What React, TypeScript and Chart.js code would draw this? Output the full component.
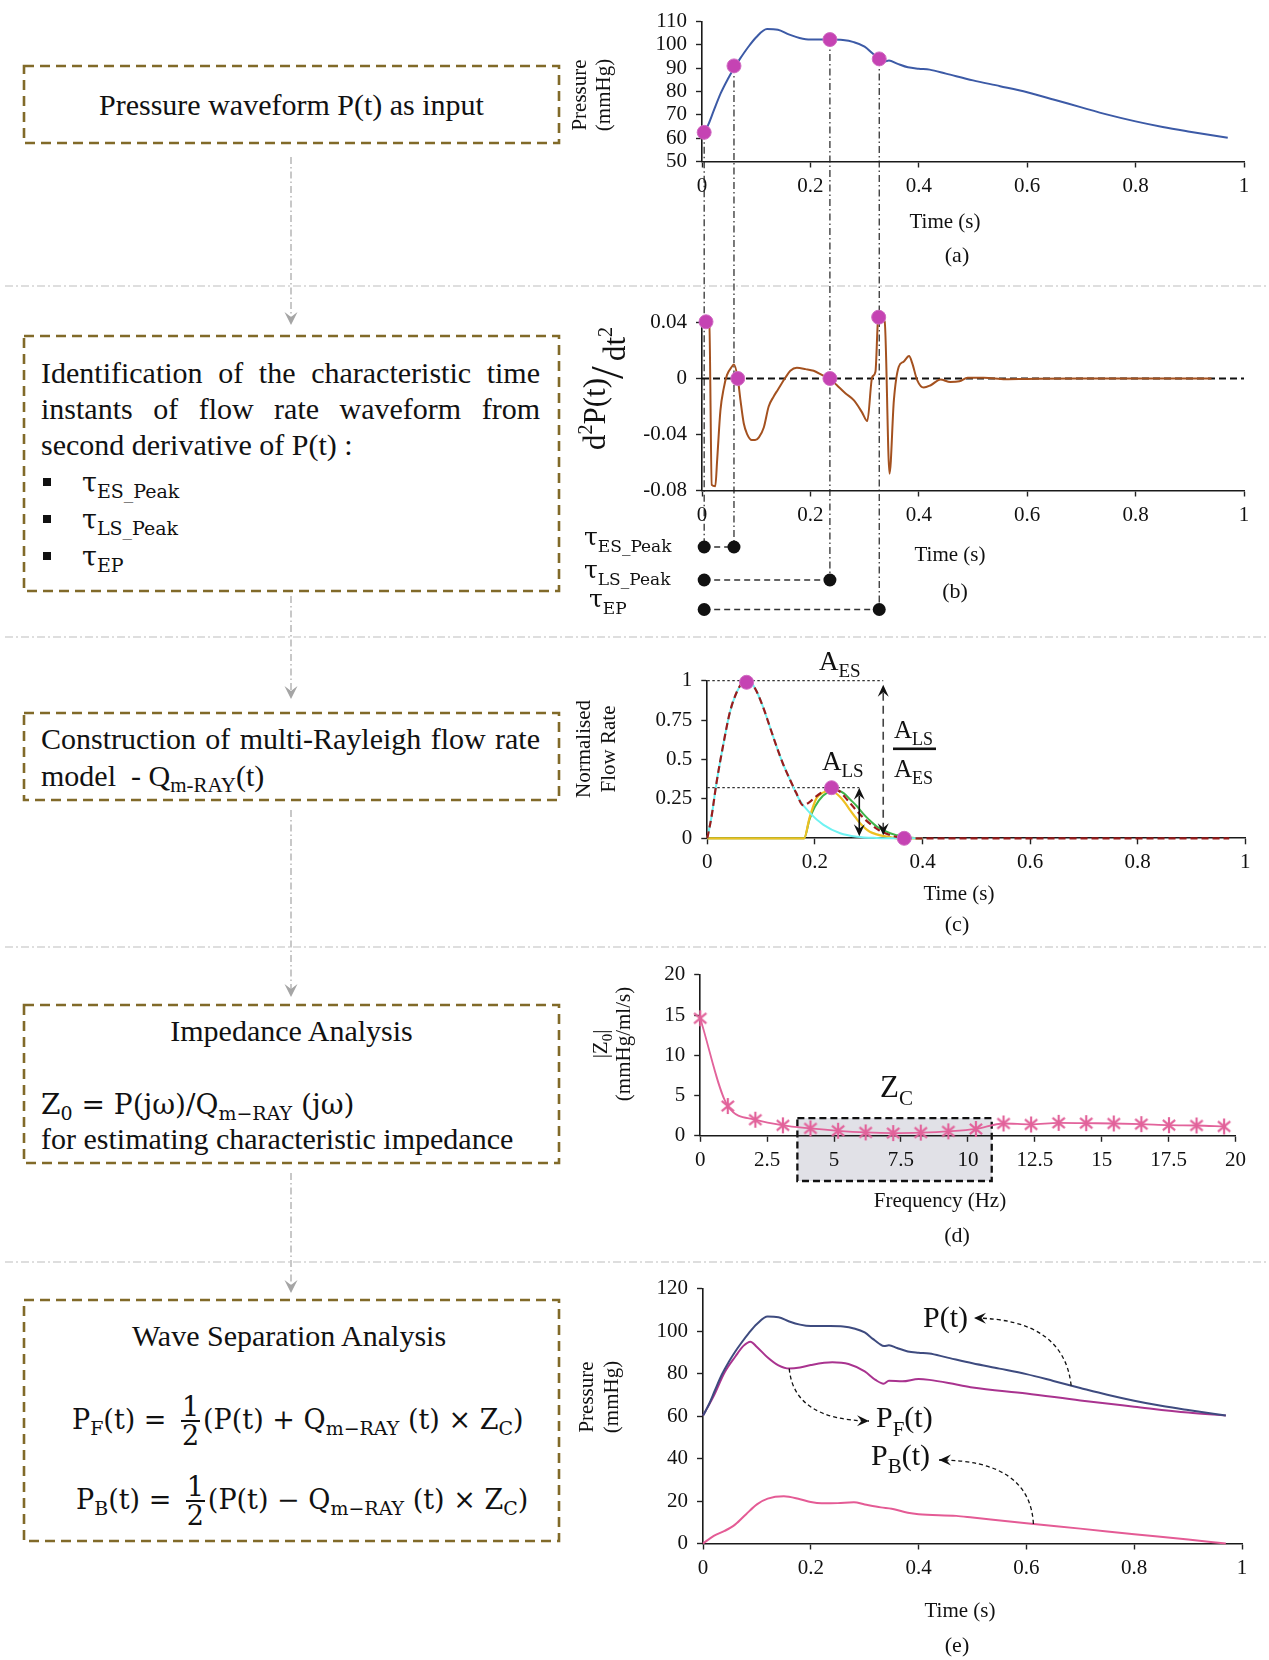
import React, { useEffect, useRef } from 'react';
import { Chart, registerables } from 'chart.js';

Chart.register(...registerables);

const SERIF = '"Liberation Serif", "Times New Roman", serif';
const MATH = '"DejaVu Serif", "Liberation Serif", serif';
const INK = '#111111';
const MARKER = '#c543b3';

Chart.defaults.font.family = SERIF;
Chart.defaults.color = INK;

// ---------- Pressure waveform P(t) (panels a and e) ----------
const pressureTime = [0, 0.005, 0.012, 0.022, 0.035, 0.048, 0.059, 0.07, 0.085, 0.1, 0.12, 0.14, 0.16, 0.18, 0.2, 0.236, 0.26, 0.28, 0.3, 0.315, 0.327, 0.336, 0.345, 0.36, 0.38, 0.4, 0.42, 0.45, 0.5, 0.55, 0.6, 0.65, 0.7, 0.75, 0.8, 0.85, 0.9, 0.97];
const pressureMmHg = [60.2, 62.5, 66, 72, 79.5, 85.5, 90, 94, 99, 103.3, 106.8, 106.5, 104.5, 103, 102.3, 102.3, 102.1, 101.2, 99.3, 96.3, 94, 92.9, 93.3, 92, 90.4, 89.8, 89.4, 87.7, 84.8, 82.3, 79.7, 76.5, 73.2, 70, 67.2, 64.8, 62.8, 60.2];

// ---------- Characteristic instants ----------
const tauTimes = [0.004, 0.059, 0.236, 0.327];
const tauPressure = [62.5, 91, 102.3, 94];
const tauNames = ['ES_Peak', 'LS_Peak', 'EP'];
const tauRowEnd = [0.059, 0.236, 0.327];
const tauLineRow = [0, 0, 1, 2];

// ---------- Second derivative d2P/dt2 (panel b) ----------
const d2Time = [0.002, 0.0074, 0.0135, 0.018, 0.0245, 0.028, 0.034, 0.04, 0.046, 0.055, 0.059, 0.066, 0.071, 0.077, 0.083, 0.092, 0.098, 0.105, 0.114, 0.123, 0.132, 0.14, 0.154, 0.163, 0.175, 0.191, 0.206, 0.222, 0.236, 0.249, 0.265, 0.28, 0.295, 0.305, 0.314, 0.32, 0.3247, 0.326, 0.337, 0.346, 0.354, 0.363, 0.372, 0.382, 0.388, 0.397, 0.409, 0.422, 0.44, 0.458, 0.475, 0.49, 0.52, 0.56, 0.6, 0.7, 0.8, 0.94];
const d2Value = [0.04, 0.0405, 0.039, -0.076, -0.077, -0.058, -0.0228, -0.0072, 0.0024, 0.0084, 0.01, 0, -0.0156, -0.032, -0.0395, -0.044, -0.044, -0.042, -0.035, -0.02, -0.013, -0.008, 0.0007, 0.0055, 0.0076, 0.0067, 0.0055, 0.0024, 0, -0.0048, -0.0107, -0.0155, -0.024, -0.0304, 0.001, 0.0048, 0.042, 0.0438, 0.0407, -0.068, -0.0156, 0.0084, 0.012, 0.016, 0.0108, -0.0012, -0.0065, -0.0048, -0.0007, -0.0025, -0.002, 0.0005, 0.0005, -0.0005, -0.0003, 0, 0, 0];
const d2MarkTime = [0.0074, 0.066, 0.236, 0.326];
const d2MarkValue = [0.0405, 0, 0, 0.0438];

// ---------- Multi-Rayleigh flow model (panel c) ----------
const esTime = [0, 0.008, 0.017, 0.03, 0.042, 0.055, 0.065, 0.073, 0.082, 0.092, 0.104, 0.116, 0.128, 0.141, 0.154, 0.172, 0.191, 0.216, 0.247, 0.278, 0.315, 0.36, 0.4];
const esFlow = [0, 0.14, 0.35, 0.6, 0.8, 0.93, 0.985, 1.0, 0.985, 0.93, 0.83, 0.71, 0.59, 0.47, 0.37, 0.24, 0.16, 0.085, 0.032, 0.01, 0.002, 0, 0];
const mrayTime = [0, 0.008, 0.017, 0.03, 0.042, 0.055, 0.065, 0.073, 0.082, 0.092, 0.104, 0.116, 0.128, 0.141, 0.154, 0.165, 0.178, 0.19, 0.2, 0.212, 0.231, 0.245, 0.26, 0.275, 0.29, 0.305, 0.32, 0.34, 0.36, 0.375, 0.97];
const mrayFlow = [0, 0.14, 0.35, 0.6, 0.8, 0.93, 0.985, 1.0, 0.985, 0.93, 0.83, 0.71, 0.59, 0.47, 0.37, 0.29, 0.21, 0.23, 0.26, 0.29, 0.321, 0.3, 0.245, 0.185, 0.13, 0.085, 0.05, 0.02, 0.004, 0, 0];
const lsATime = [0, 0.18, 0.19, 0.203, 0.215, 0.226, 0.237, 0.247, 0.256, 0.265, 0.275, 0.284, 0.293, 0.302, 0.315, 0.327, 0.34, 0.352, 0.4];
const lsAFlow = [0, 0, 0.13, 0.255, 0.29, 0.3, 0.29, 0.262, 0.225, 0.18, 0.135, 0.095, 0.065, 0.042, 0.025, 0.015, 0.007, 0, 0];
const lsBTime = [0, 0.18, 0.19, 0.2, 0.215, 0.23, 0.24, 0.254, 0.266, 0.279, 0.29, 0.3, 0.315, 0.328, 0.34, 0.352, 0.364, 0.38, 0.4];
const lsBFlow = [0, 0, 0.12, 0.2, 0.27, 0.3, 0.305, 0.285, 0.245, 0.2, 0.155, 0.12, 0.075, 0.05, 0.032, 0.02, 0.01, 0.003, 0];
const flowMarkTime = [0.073, 0.231, 0.366];
const flowMarkValue = [0.99, 0.321, 0];
const aesLevel = 1;
const alsLevel = 0.321;
const aesArrowTime = 0.327;
const alsArrowTime = 0.2825;

// ---------- Input impedance modulus (panel d) ----------
const zFreqHz = [0, 1.03, 2.06, 3.09, 4.12, 5.15, 6.18, 7.21, 8.24, 9.27, 10.3, 11.33, 12.36, 13.39, 14.42, 15.45, 16.48, 17.51, 18.54, 19.57];
const zModulus = [14.6, 3.7, 2.0, 1.3, 0.92, 0.62, 0.42, 0.34, 0.4, 0.55, 0.85, 1.53, 1.41, 1.61, 1.57, 1.53, 1.45, 1.32, 1.28, 1.16];
const zcBandHz = [3.63, 10.89];
const zcBandTop = 2.2;

// ---------- Wave separation (panel e) ----------
const pfTime = [0, 0.02, 0.04, 0.06, 0.075, 0.088, 0.1, 0.12, 0.14, 0.16, 0.18, 0.2, 0.24, 0.27, 0.3, 0.32, 0.335, 0.345, 0.37, 0.4, 0.42, 0.47, 0.5, 0.6, 0.7, 0.8, 0.9, 0.97];
const pfMmHg = [60.2, 69.5, 80.5, 88, 93, 95, 92.5, 87.5, 83.8, 82.3, 82.8, 84, 85.3, 84.5, 81, 77, 75.2, 76.6, 76.3, 77.4, 77, 74.8, 73.4, 70.6, 67.3, 64.4, 61.6, 60.2];
const pbTime = [0, 0.02, 0.04, 0.06, 0.08, 0.1, 0.12, 0.15, 0.18, 0.2, 0.22, 0.25, 0.28, 0.3, 0.33, 0.35, 0.38, 0.4, 0.47, 0.5, 0.6, 0.7, 0.8, 0.9, 0.97];
const pbMmHg = [0, 3.6, 5.9, 9, 13.8, 18.4, 21.1, 22.2, 20.8, 19.5, 18.9, 19, 19.4, 18.4, 17, 16.4, 14.5, 13.8, 13, 12.2, 9.5, 7, 4.4, 1.9, 0];
const labelAnchorTime = [0.683, 0.16, 0.613];
const labelAnchorValue = [74.3, 82.3, 9.2];

// ---------- Ticks ----------
const timeTicks = [0, 0.2, 0.4, 0.6, 0.8, 1];
const timeTickLabels = ['0', '0.2', '0.4', '0.6', '0.8', '1'];
const aYTicks = [50, 60, 70, 80, 90, 100, 110];
const bYTicks = [-0.08, -0.04, 0, 0.04];
const bYTickLabels = ['-0.08', '-0.04', '0', '0.04'];
const cYTicks = [0, 0.25, 0.5, 0.75, 1];
const cYTickLabels = ['0', '0.25', '0.5', '0.75', '1'];
const dXTicks = [0, 2.5, 5, 7.5, 10, 12.5, 15, 17.5, 20];
const dXTickLabels = ['0', '2.5', '5', '7.5', '10', '12.5', '15', '17.5', '20'];
const dYTicks = [0, 5, 10, 15, 20];
const eYTicks = [0, 20, 40, 60, 80, 100, 120];

// ---------- Page layout ----------
type Box = { left: number; top: number; width: number; height: number };
type Area = { left: number; right: number; top: number; bottom: number };

const A_BOX: Box = { left: 540, top: 0, width: 729, height: 625 };
const A_AREA: Area = { left: 702, right: 1244, top: 18.3, bottom: 161.5 };
const B_BOX: Box = { left: 540, top: 290, width: 729, height: 335 };
const B_AREA: Area = { left: 702, right: 1244, top: 322.5, bottom: 490.5 };
const C_BOX: Box = { left: 540, top: 640, width: 729, height: 305 };
const C_AREA: Area = { left: 707.3, right: 1245.3, top: 680.7, bottom: 838.3 };
const D_BOX: Box = { left: 540, top: 950, width: 729, height: 310 };
const D_AREA: Area = { left: 700.2, right: 1235.6, top: 974.8, bottom: 1135.8 };
const E_BOX: Box = { left: 540, top: 1265, width: 729, height: 395 };
const E_AREA: Area = { left: 703, right: 1242, top: 1288.5, bottom: 1543.5 };
const TAU_ROW_Y = [547, 580, 609.5];

const SEPARATOR_Y = [286, 637, 947, 1262];
const FLOW_ARROWS = [[157, 325], [596, 699], [810, 997], [1173, 1293]];
const STEP_BOXES = [
  [24, 66, 535, 77],
  [24, 336, 535, 255],
  [24, 713, 535, 87],
  [24, 1005, 535, 158],
  [24, 1300, 535, 241],
];

// ---------- Canvas helpers ----------
const pts = (xs: number[], ys: number[]) => xs.map((x, i) => ({ x, y: ys[i] }));

function curve(xs: number[], ys: number[], color: string, width = 2, dash: number[] = []) {
  return {
    data: pts(xs, ys), borderColor: color, borderWidth: width, borderDash: dash,
    pointRadius: 0, fill: false, cubicInterpolationMode: 'monotone', clip: false,
  };
}

function dots(xs: number[], ys: number[], color: string, r = 7) {
  return {
    data: pts(xs, ys), showLine: false, pointRadius: r, pointBackgroundColor: color,
    pointBorderColor: '#d06cc2', pointBorderWidth: 1, clip: false,
  };
}

function text(ctx: any, s: string, x: number, y: number, size: number, align = 'center', family = SERIF) {
  ctx.font = `${size}px ${family}`;
  ctx.textAlign = align;
  ctx.textBaseline = 'middle';
  ctx.fillStyle = INK;
  ctx.fillText(s, x, y);
}

type Run = [string, number, number?];
function runs(ctx: any, parts: Run[], x: number, y: number, align = 'left', family = SERIF) {
  const widths = parts.map(([t, s]) => { ctx.font = `${s}px ${family}`; return ctx.measureText(t).width; });
  const total = widths.reduce((a, b) => a + b, 0);
  let cx = align === 'center' ? x - total / 2 : x;
  ctx.textAlign = 'left';
  ctx.textBaseline = 'alphabetic';
  ctx.fillStyle = INK;
  parts.forEach(([t, s, dy = 0], i) => {
    ctx.font = `${s}px ${family}`;
    ctx.fillText(t, cx, y + dy);
    cx += widths[i];
  });
}

function vTitle(ctx: any, lines: string[], cx: number, cy: number, size: number, gap: number) {
  ctx.save();
  ctx.translate(cx, cy);
  ctx.rotate(-Math.PI / 2);
  lines.forEach((l, i) => text(ctx, l, 0, (i - (lines.length - 1) / 2) * gap, size));
  ctx.restore();
}

function arrowHead(ctx: any, x: number, y: number, ang: number, len = 11, half = 5) {
  ctx.save();
  ctx.translate(x, y);
  ctx.rotate(ang);
  ctx.beginPath();
  ctx.moveTo(0, 0);
  ctx.lineTo(-len, -half);
  ctx.lineTo(-len * 0.62, 0);
  ctx.lineTo(-len, half);
  ctx.closePath();
  ctx.fill();
  ctx.restore();
}

function segment(ctx: any, x1: number, y1: number, x2: number, y2: number) {
  ctx.beginPath();
  ctx.moveTo(x1, y1);
  ctx.lineTo(x2, y2);
  ctx.stroke();
}

type Draw = (c: any, ctx: any, X: (v: number) => number, Y: (v: number) => number) => void;
function decor(box: Box, layers: { bg?: Draw; under?: Draw; over?: Draw }) {
  const X = (v: number) => v - box.left;
  const Y = (v: number) => v - box.top;
  const call = (c: any, fn?: Draw) => {
    if (!fn) return;
    const ctx = c.ctx;
    ctx.save();
    fn(c, ctx, X, Y);
    ctx.restore();
  };
  return {
    id: 'decor',
    beforeDraw: (c: any) => call(c, layers.bg),
    beforeDatasetsDraw: (c: any) => call(c, layers.under),
    afterDraw: (c: any) => call(c, layers.over),
  };
}

function axis(min: number, max: number, ticks: number[], labels: string[], fit: (s: any) => void, pad: number) {
  return {
    type: 'linear', min, max,
    afterBuildTicks: (s: any) => { s.ticks = ticks.map((value) => ({ value })); },
    afterFit: fit,
    ticks: {
      font: { family: SERIF, size: 21 }, color: INK, padding: pad, autoSkip: false,
      maxRotation: 0, minRotation: 0, callback: (_v: any, i: number) => labels[i],
    },
    grid: { drawOnChartArea: false, drawTicks: true, tickLength: 6, tickWidth: 1.4, tickColor: '#222', color: '#222' },
    border: { display: true, color: '#1a1a1a', width: 1.6 },
  };
}

type AxisSpec = [number, number, number[], string[]];
function makeConfig(box: Box, area: Area, datasets: any[], x: AxisSpec, y: AxisSpec, plugin: any) {
  return {
    type: 'line',
    data: { datasets },
    options: {
      responsive: false, maintainAspectRatio: false, animation: false, devicePixelRatio: 1, events: [],
      font: { family: SERIF },
      layout: { padding: { left: 0, top: area.top - box.top, right: box.left + box.width - area.right, bottom: 0 } },
      plugins: { legend: { display: false }, tooltip: { enabled: false }, title: { display: false } },
      scales: {
        x: axis(x[0], x[1], x[2], x[3], (s: any) => { s.height = box.top + box.height - area.bottom; }, 6),
        y: axis(y[0], y[1], y[2], y[3], (s: any) => { s.width = area.left - box.left; }, 9),
      },
    },
    plugins: [plugin],
  };
}

function PlotCanvas({ box, build }: { box: Box; build: () => any }) {
  const ref = useRef<HTMLCanvasElement>(null);
  useEffect(() => {
    const chart = new Chart(ref.current as HTMLCanvasElement, build());
    return () => chart.destroy();
  }, []);
  return (
    <canvas
      ref={ref}
      width={box.width}
      height={box.height}
      style={{ position: 'absolute', left: box.left, top: box.top, width: box.width, height: box.height }}
    />
  );
}

function asteriskSprite(color: string, r: number) {
  const size = r * 2 + 4;
  const s = document.createElement('canvas');
  s.width = size;
  s.height = size;
  const g = s.getContext('2d') as CanvasRenderingContext2D;
  g.strokeStyle = color;
  g.lineWidth = 2.2;
  const c = size / 2;
  [90, 40, 140].forEach((deg) => {
    const a = (deg * Math.PI) / 180;
    g.beginPath();
    g.moveTo(c - Math.cos(a) * r, c - Math.sin(a) * r);
    g.lineTo(c + Math.cos(a) * r, c + Math.sin(a) * r);
    g.stroke();
  });
  return s;
}

// ---------- Panel builders ----------
const timeAxis = (): AxisSpec => [0, 1, timeTicks, timeTickLabels];

function buildA() {
  const plugin = decor(A_BOX, {
    under: (c, ctx, X, Y) => {
      ctx.strokeStyle = '#222';
      ctx.lineWidth = 1.2;
      ctx.setLineDash([7, 3, 1.5, 3]);
      tauTimes.forEach((t, i) => {
        const x = c.scales.x.getPixelForValue(t);
        segment(ctx, x, c.scales.y.getPixelForValue(tauPressure[i]), x, Y(TAU_ROW_Y[tauLineRow[i]]));
      });
    },
    over: (c, ctx, X, Y) => {
      vTitle(ctx, ['Pressure', '(mmHg)'], X(592), Y(95), 21, 24);
      text(ctx, 'Time (s)', X(945), Y(222), 21);
      text(ctx, '(a)', X(957), Y(256), 22);
    },
  });
  return makeConfig(A_BOX, A_AREA, [
    dots(tauTimes, tauPressure, MARKER),
    curve(pressureTime, pressureMmHg, '#3c5aa6', 2),
  ], timeAxis(), [50, 110, aYTicks, aYTicks.map(String)], plugin);
}

function buildB() {
  const plugin = decor(B_BOX, {
    under: (c, ctx) => {
      const y0 = c.scales.y.getPixelForValue(0);
      ctx.strokeStyle = '#111';
      ctx.lineWidth = 1.8;
      ctx.setLineDash([7, 4]);
      segment(ctx, c.scales.x.getPixelForValue(0), y0, c.scales.x.getPixelForValue(1), y0);
    },
    over: (c, ctx, X, Y) => {
      ctx.save();
      ctx.translate(X(604), Y(386));
      ctx.rotate(-Math.PI / 2);
      runs(ctx, [['d', 31], ['2', 20, -13], ['P(t)', 31]], -64, 1);
      runs(ctx, [['/', 46]], 7, 19);
      runs(ctx, [['dt', 31], ['2', 20, -13]], 25, 21);
      ctx.restore();
      text(ctx, 'Time (s)', X(950), Y(555), 21);
      text(ctx, '(b)', X(955), Y(592), 22);
      const x0 = c.scales.x.getPixelForValue(tauTimes[0]);
      tauNames.forEach((name, r) => {
        const y = Y(TAU_ROW_Y[r]);
        const x1 = c.scales.x.getPixelForValue(tauRowEnd[r]);
        ctx.strokeStyle = '#333';
        ctx.lineWidth = 1.3;
        ctx.setLineDash([6, 4]);
        segment(ctx, x0, y, x1, y);
        ctx.setLineDash([]);
        ctx.fillStyle = '#111';
        [x0, x1].forEach((x) => { ctx.beginPath(); ctx.arc(x, y, 6.5, 0, Math.PI * 2); ctx.fill(); });
        runs(ctx, [['τ', 25], [name, 17, 7]], X(r === 2 ? 589 : 584), y - 2.5, 'left', MATH);
      });
    },
  });
  return makeConfig(B_BOX, B_AREA, [
    dots(d2MarkTime, d2MarkValue, MARKER),
    curve(d2Time, d2Value, '#a4511f', 2),
  ], timeAxis(), [-0.08, 0.04, bYTicks, bYTickLabels], plugin);
}

function buildC() {
  const plugin = decor(C_BOX, {
    under: (c, ctx) => {
      const xs = c.scales.x; const ys = c.scales.y;
      ctx.strokeStyle = '#333';
      ctx.lineWidth = 1.2;
      ctx.setLineDash([2.5, 2.5]);
      segment(ctx, xs.getPixelForValue(0), ys.getPixelForValue(aesLevel), xs.getPixelForValue(aesArrowTime), ys.getPixelForValue(aesLevel));
      segment(ctx, xs.getPixelForValue(0), ys.getPixelForValue(alsLevel), xs.getPixelForValue(alsArrowTime), ys.getPixelForValue(alsLevel));
    },
    over: (c, ctx, X, Y) => {
      const xs = c.scales.x; const ys = c.scales.y;
      const y0 = ys.getPixelForValue(0);
      // A_ES span (dashed double arrow)
      const xe = xs.getPixelForValue(aesArrowTime);
      const ye = ys.getPixelForValue(aesLevel) + 4;
      ctx.strokeStyle = '#444';
      ctx.fillStyle = '#111';
      ctx.lineWidth = 1.6;
      ctx.setLineDash([8, 5]);
      segment(ctx, xe, ye + 8, xe, y0 - 10);
      ctx.setLineDash([]);
      arrowHead(ctx, xe, ye, -Math.PI / 2, 12, 5.5);
      arrowHead(ctx, xe, y0 - 3, Math.PI / 2, 12, 5.5);
      // A_LS span (solid double arrow)
      const xl = xs.getPixelForValue(alsArrowTime);
      const yl = ys.getPixelForValue(alsLevel);
      ctx.strokeStyle = '#111';
      ctx.lineWidth = 1.6;
      segment(ctx, xl, yl + 8, xl, y0 - 8);
      arrowHead(ctx, xl, yl, -Math.PI / 2, 12, 5.5);
      arrowHead(ctx, xl, y0 - 2, Math.PI / 2, 12, 5.5);
      runs(ctx, [['A', 27], ['ES', 19, 7]], X(819), Y(670));
      runs(ctx, [['A', 27], ['LS', 19, 7]], X(822), Y(770));
      runs(ctx, [['A', 25], ['LS', 18, 7]], X(894), Y(738));
      ctx.fillStyle = '#111';
      ctx.fillRect(X(893), Y(747.5), 43, 2.6);
      runs(ctx, [['A', 25], ['ES', 18, 7]], X(894), Y(777));
      vTitle(ctx, ['Normalised', 'Flow Rate'], X(597), Y(749), 21, 25);
      text(ctx, 'Time (s)', X(959), Y(894), 21);
      text(ctx, '(c)', X(957), Y(925), 22);
    },
  });
  return makeConfig(C_BOX, C_AREA, [
    dots(flowMarkTime, flowMarkValue, MARKER),
    curve(mrayTime, mrayFlow, '#9b1c1c', 2.2, [7, 4]),
    curve(esTime, esFlow, '#6ff2f2', 2),
    curve(lsATime, lsAFlow, '#eec022', 2.2),
    curve(lsBTime, lsBFlow, '#3fb44b', 2),
  ], timeAxis(), [0, 1, cYTicks, cYTickLabels], plugin);
}

function buildD() {
  const plugin = decor(D_BOX, {
    bg: (c, ctx, X, Y) => {
      if (!c.chartArea) return;
      const xs = c.scales.x; const ys = c.scales.y;
      const l = xs.getPixelForValue(zcBandHz[0]);
      const r = xs.getPixelForValue(zcBandHz[1]);
      const t = ys.getPixelForValue(zcBandTop);
      const b = Y(1181);
      ctx.fillStyle = '#e1e1e7';
      ctx.fillRect(l, t, r - l, b - t);
      ctx.strokeStyle = '#111';
      ctx.lineWidth = 2.3;
      ctx.setLineDash([7, 4]);
      ctx.strokeRect(l, t, r - l, b - t);
    },
    over: (c, ctx, X, Y) => {
      runs(ctx, [['Z', 31], ['C', 21, 8]], X(880), Y(1097));
      ctx.save();
      ctx.translate(X(612), Y(1044));
      ctx.rotate(-Math.PI / 2);
      runs(ctx, [['|Z', 21], ['0', 15, 5], ['|', 21]], 0, -5, 'center');
      text(ctx, '(mmHg/ml/s)', 0, 12, 21);
      ctx.restore();
      text(ctx, 'Frequency (Hz)', X(940), Y(1201), 21);
      text(ctx, '(d)', X(957), Y(1236), 22);
    },
  });
  const zLine = curve(zFreqHz, zModulus, '#e2639b', 1.8) as any;
  zLine.pointStyle = asteriskSprite('#e2639b', 8);
  zLine.pointRadius = 8;
  return makeConfig(D_BOX, D_AREA, [zLine], [0, 20, dXTicks, dXTickLabels], [0, 20, dYTicks, dYTicks.map(String)], plugin);
}

function buildE() {
  const plugin = decor(E_BOX, {
    over: (c, ctx, X, Y) => {
      const xs = c.scales.x; const ys = c.scales.y;
      runs(ctx, [['P(t)', 30]], X(923), Y(1327));
      runs(ctx, [['P', 30], ['F', 21, 9], ['(t)', 30]], X(876), Y(1427));
      runs(ctx, [['P', 30], ['B', 21, 8], ['(t)', 30]], X(871), Y(1465));
      const ctrl = [[1064, 1319], [794, 1420], [1030, 1460]];
      const tips = [[974, 1318], [869, 1421], [939, 1460]];
      labelAnchorTime.forEach((t, i) => {
        const sx = xs.getPixelForValue(t);
        const sy = ys.getPixelForValue(labelAnchorValue[i]);
        const cx = X(ctrl[i][0]); const cy = Y(ctrl[i][1]);
        const tx = X(tips[i][0]); const ty = Y(tips[i][1]);
        ctx.strokeStyle = '#111';
        ctx.lineWidth = 1.3;
        ctx.setLineDash([4, 3]);
        ctx.beginPath();
        ctx.moveTo(sx, sy);
        ctx.quadraticCurveTo(cx, cy, tx, ty);
        ctx.stroke();
        ctx.setLineDash([]);
        ctx.fillStyle = '#111';
        arrowHead(ctx, tx, ty, Math.atan2(ty - cy, tx - cx), 12, 5.5);
      });
      vTitle(ctx, ['Pressure', '(mmHg)'], X(599.5), Y(1397), 21, 25);
      text(ctx, 'Time (s)', X(960), Y(1611), 21);
      text(ctx, '(e)', X(957), Y(1646), 22);
    },
  });
  return makeConfig(E_BOX, E_AREA, [
    curve(pressureTime, pressureMmHg, '#3e4b7f', 2),
    curve(pfTime, pfMmHg, '#a9338f', 2),
    curve(pbTime, pbMmHg, '#e45b95', 2),
  ], timeAxis(), [0, 120, eYTicks, eYTicks.map(String)], plugin);
}

// ---------- Flow chart (left column) ----------
const Sub = ({ children, size = '0.7em', drop = '-0.3em' }: any) => (
  <span style={{ fontSize: size, verticalAlign: drop }}>{children}</span>
);

function Line({ x, cy, w, size = 30, family = SERIF, align = 'left', justify = false, children }: any) {
  return (
    <div
      style={{
        position: 'absolute', left: x, top: cy - 23, width: w, height: 44, lineHeight: '44px',
        fontSize: size, fontFamily: family, color: INK,
        textAlign: justify ? 'justify' : align, textAlignLast: justify ? 'justify' : align,
        whiteSpace: justify ? 'normal' : 'pre',
      }}
    >
      {children}
    </div>
  );
}

function Formula({ x, cy, size = 27, children }: any) {
  return (
    <div
      style={{
        position: 'absolute', left: x, top: cy - 40, height: 80, display: 'flex', alignItems: 'center',
        fontSize: size, fontFamily: MATH, color: INK, whiteSpace: 'pre',
      }}
    >
      {children}
    </div>
  );
}

const Half = () => (
  <span style={{ display: 'inline-flex', flexDirection: 'column', alignItems: 'center', margin: '0 3px 0 6px' }}>
    <span style={{ lineHeight: '27px' }}>1</span>
    <span style={{ width: 19, height: 2.5, background: INK }} />
    <span style={{ lineHeight: '27px' }}>2</span>
  </span>
);

function Bullet({ cy }: { cy: number }) {
  return <div style={{ position: 'absolute', left: 43, top: cy - 4, width: 8, height: 8, background: INK }} />;
}

function FlowDiagram() {
  const tauItems = ['ES_Peak', 'LS_Peak', 'EP'];
  const tauY = [481.6, 518.6, 555.7];
  return (
    <>
      <svg width={1269} height={1660} style={{ position: 'absolute', left: 0, top: 0 }}>
        {SEPARATOR_Y.map((y) => (
          <line key={y} x1={5} y1={y} x2={1269} y2={y} stroke="#bdbdbd" strokeWidth={1.2} strokeDasharray="8 3 2 3" />
        ))}
        {FLOW_ARROWS.map(([y1, y2]) => (
          <g key={y1}>
            <line x1={291} y1={y1} x2={291} y2={y2 - 6} stroke="#ababab" strokeWidth={1.3} strokeDasharray="7 3 1.5 3" />
            <path d={`M ${291 - 6.5} ${y2 - 13} L 291 ${y2} L ${291 + 6.5} ${y2 - 13} L 291 ${y2 - 8} Z`} fill="#a5a5a5" />
          </g>
        ))}
        {STEP_BOXES.map(([x, y, w, h]) => (
          <rect key={y} x={x} y={y} width={w} height={h} fill="none" stroke="#816a29" strokeWidth={2.6} strokeDasharray="10 6" />
        ))}
      </svg>

      <Line x={24} cy={106} w={535} align="center">Pressure waveform P(t) as input</Line>

      <Line x={41} cy={373.6} w={499} justify>Identification of the characteristic time</Line>
      <Line x={41} cy={409.6} w={499} justify>instants of flow rate waveform from</Line>
      <Line x={41} cy={445.6} w={499}>second derivative of P(t) :</Line>
      {tauItems.map((name, i) => (
        <React.Fragment key={name}>
          <Bullet cy={tauY[i]} />
          <Line x={82} cy={tauY[i] + 2} w={200} size={27} family={MATH}>
            τ<Sub size="19px" drop="-0.32em">{name}</Sub>
          </Line>
        </React.Fragment>
      ))}

      <Line x={41} cy={740} w={499} justify>Construction of multi-Rayleigh flow rate</Line>
      <Line x={41} cy={777} w={499}>
        {'model  - Q'}<Sub size="21px" drop="-0.3em">m-RAY</Sub>(t)
      </Line>

      <Line x={24} cy={1032} w={535} align="center">Impedance Analysis</Line>
      <Formula x={41} cy={1106} size={28}>
        <span>Z<Sub size="19px">0</Sub> = P(jω)/Q<Sub size="19px">m−RAY</Sub> (jω)</span>
      </Formula>
      <Line x={41} cy={1140} w={499}>for estimating characteristic impedance</Line>

      <Line x={24} cy={1337} w={530} align="center">Wave Separation Analysis</Line>
      <Formula x={72} cy={1421}>
        <span>P<Sub size="19px">F</Sub>(t) = </span>
        <Half />
        <span>(P(t) + Q<Sub size="19px">m−RAY</Sub> (t) × Z<Sub size="19px">C</Sub>)</span>
      </Formula>
      <Formula x={76} cy={1501}>
        <span>P<Sub size="19px">B</Sub>(t) = </span>
        <Half />
        <span>(P(t) − Q<Sub size="19px">m−RAY</Sub> (t) × Z<Sub size="19px">C</Sub>)</span>
      </Formula>
    </>
  );
}

export default function App() {
  return (
    <div
      style={{
        position: 'absolute', left: 0, top: 0, width: 1269, height: 1660,
        background: '#ffffff', overflow: 'hidden', fontFamily: SERIF,
      }}
    >
      <FlowDiagram />
      <PlotCanvas box={A_BOX} build={buildA} />
      <PlotCanvas box={B_BOX} build={buildB} />
      <PlotCanvas box={C_BOX} build={buildC} />
      <PlotCanvas box={D_BOX} build={buildD} />
      <PlotCanvas box={E_BOX} build={buildE} />
    </div>
  );
}
